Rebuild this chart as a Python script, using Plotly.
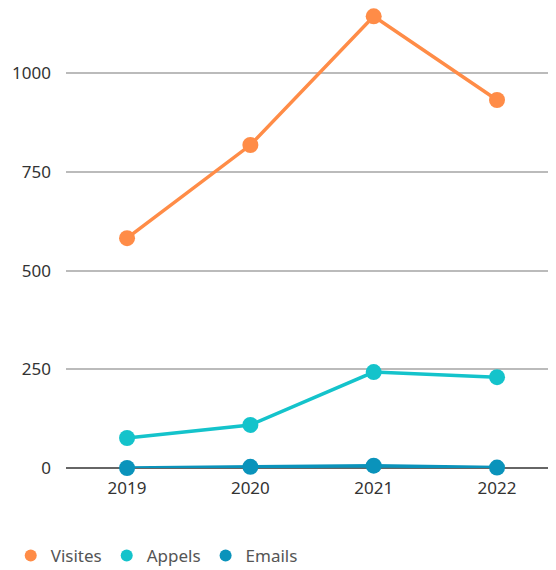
import plotly.graph_objects as go

years = ["2019", "2020", "2021", "2022"]
visites = [582, 818, 1144, 932]
appels = [76, 109, 243, 230]
emails = [0, 3, 6, 1]

series = [
    ("Visites", visites, "#FF8C47"),
    ("Appels", appels, "#14C3CB"),
    ("Emails", emails, "#0A93BB"),
]

fig = go.Figure()
for name, vals, col in series:
    fig.add_trace(go.Scatter(
        x=years, y=vals, name=name, mode="lines+markers",
        line=dict(color=col, width=3.5),
        marker=dict(color=col, size=16),
        cliponaxis=False, showlegend=False,
    ))
# legend entries: circles only
for name, vals, col in series:
    fig.add_trace(go.Scatter(
        x=[None], y=[None], name=name, mode="markers",
        marker=dict(color=col, size=18),
    ))

# page body has an 8px margin, so margins are shifted by 8
fig.update_layout(
    width=556, height=570,
    margin=dict(l=58, r=0, t=2, b=110, autoexpand=False),
    paper_bgcolor="white", plot_bgcolor="white",
    font=dict(family="Noto Sans, Lato, sans-serif", size=17, color="#333333"),
    showlegend=True,
    legend=dict(orientation="h", x=-0.111, xanchor="left", y=-0.192, yanchor="middle",
                font=dict(size=17, color="#555555"), itemsizing="constant",
                traceorder="normal", itemwidth=30),
    xaxis=dict(type="category", range=[-0.495, 3.543], showgrid=False,
               showline=False, ticks="", ticklabelstandoff=8),
    yaxis=dict(range=[0, 1160], tickvals=[0, 250, 500, 750, 1000],
               gridcolor="#BBBBBB", gridwidth=1.5, zeroline=True,
               zerolinecolor="#666666", zerolinewidth=2,
               showline=False, ticks="", ticklabelstandoff=14),
)

fig.write_html("out.html")
